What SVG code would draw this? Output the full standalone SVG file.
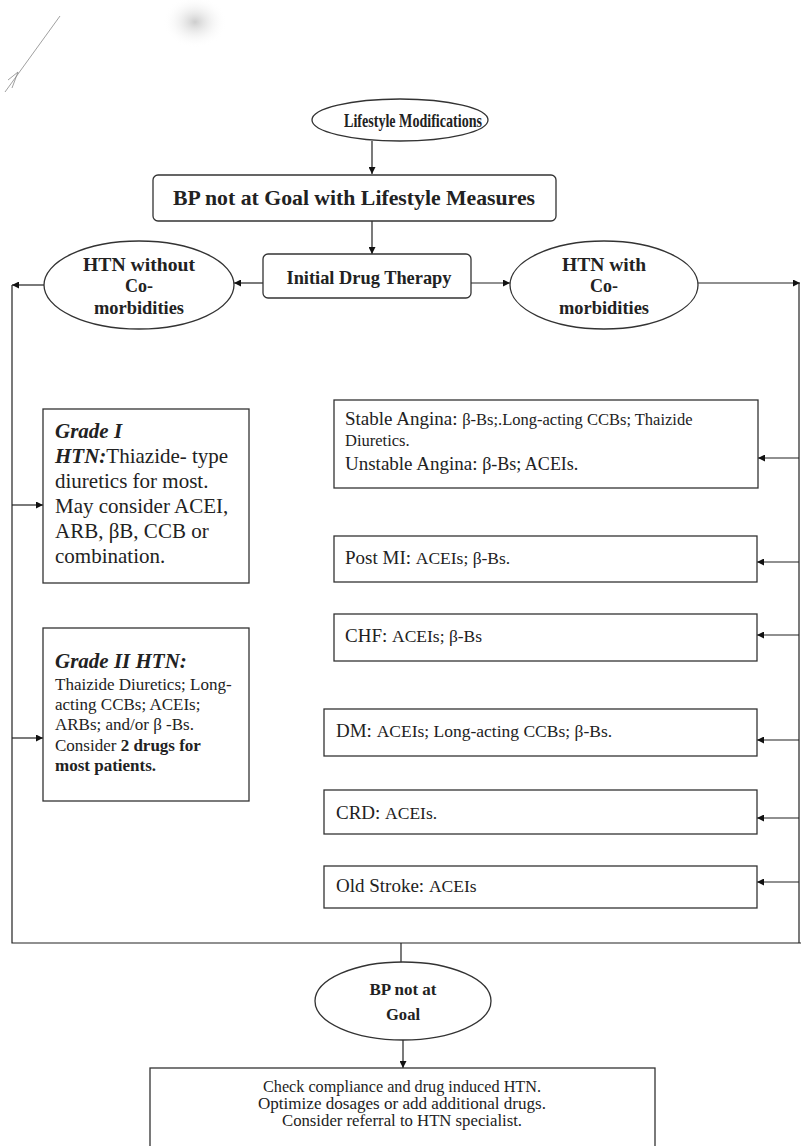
<svg xmlns="http://www.w3.org/2000/svg" width="801" height="1146" viewBox="0 0 801 1146">
<defs>
<marker id="ah" viewBox="0 0 10 10" refX="10" refY="5" markerWidth="9" markerHeight="7" orient="auto" markerUnits="userSpaceOnUse">
<path d="M0,0 L10,5 L0,10 z" fill="#111"/>
</marker>
<radialGradient id="smudge" cx="0.5" cy="0.5" r="0.5">
<stop offset="0" stop-color="#c8c8c8" stop-opacity="0.9"/>
<stop offset="1" stop-color="#ffffff" stop-opacity="0"/>
</radialGradient>
<style>
.shape{fill:#fff;stroke:#333;stroke-width:1.3}
.conn{fill:none;stroke:#222;stroke-width:1.2}
.t{font-family:"Liberation Serif","Times New Roman",serif;fill:#222}
.b{font-weight:bold}
.bi{font-weight:bold;font-style:italic}
.big{font-size:19px}
.sm{font-size:16.5px}
.g{font-size:21px}
.g2{font-size:17px}
.c{text-anchor:middle}
</style>
</defs>
<rect width="801" height="1146" fill="#fff"/>
<g id="scan-artifacts">
<ellipse cx="195" cy="22" rx="32" ry="26" fill="url(#smudge)"/>
<path d="M60,16 L5,92 M8,80 L18,72 L12,88" fill="none" stroke="#888" stroke-width="0.8"/>
</g>
<g id="connectors">
<line class="conn" x1="372" y1="141" x2="372" y2="174" marker-end="url(#ah)"/>
<line class="conn" x1="372" y1="221" x2="372" y2="254" marker-end="url(#ah)"/>
<line class="conn" x1="263" y1="283" x2="234" y2="283" marker-end="url(#ah)"/>
<line class="conn" x1="471" y1="283" x2="510" y2="283" marker-end="url(#ah)"/>
<line class="conn" x1="44" y1="285" x2="12" y2="285" marker-end="url(#ah)"/>
<line class="conn" x1="698" y1="283" x2="800" y2="283" marker-end="url(#ah)"/>
<polyline class="conn" points="12,285 12,943 801,943"/>
<line class="conn" x1="799" y1="283" x2="799" y2="943"/>
<line class="conn" x1="12" y1="505" x2="43" y2="505" marker-end="url(#ah)"/>
<line class="conn" x1="12" y1="738" x2="43" y2="738" marker-end="url(#ah)"/>
<line class="conn" x1="799" y1="458" x2="758" y2="458" marker-end="url(#ah)"/>
<line class="conn" x1="799" y1="562" x2="757" y2="562" marker-end="url(#ah)"/>
<line class="conn" x1="799" y1="635" x2="757" y2="635" marker-end="url(#ah)"/>
<line class="conn" x1="799" y1="740" x2="757" y2="740" marker-end="url(#ah)"/>
<line class="conn" x1="799" y1="818" x2="757" y2="818" marker-end="url(#ah)"/>
<line class="conn" x1="799" y1="882" x2="757" y2="882" marker-end="url(#ah)"/>
<line class="conn" x1="401" y1="943" x2="401" y2="962"/>
<line class="conn" x1="403" y1="1040" x2="403" y2="1068" marker-end="url(#ah)"/>
</g>
<g id="lifestyle">
<ellipse class="shape" cx="400" cy="120" rx="88" ry="21"/>
<text class="t b c" x="413" y="127" font-size="19" textLength="138" lengthAdjust="spacingAndGlyphs">Lifestyle Modifications</text>
</g>
<g id="bp-not-goal-lifestyle">
<rect class="shape" x="153" y="175" width="403" height="46" rx="5"/>
<text class="t b c" x="354" y="205" font-size="21" textLength="362" lengthAdjust="spacingAndGlyphs">BP not at Goal with Lifestyle Measures</text>
</g>
<g id="initial-therapy">
<rect class="shape" x="263" y="254" width="208" height="44" rx="5"/>
<text class="t b c" x="369" y="284" font-size="19" textLength="165" lengthAdjust="spacingAndGlyphs">Initial Drug Therapy</text>
</g>
<g id="htn-without">
<ellipse class="shape" cx="139" cy="285" rx="95" ry="44"/>
<text class="t b c" x="139" y="271" font-size="18" textLength="112" lengthAdjust="spacingAndGlyphs">HTN without</text>
<text class="t b c" x="139" y="292" font-size="18">Co-</text>
<text class="t b c" x="139" y="314" font-size="18" textLength="90" lengthAdjust="spacingAndGlyphs">morbidities</text>
</g>
<g id="htn-with">
<ellipse class="shape" cx="604" cy="285" rx="94" ry="44"/>
<text class="t b c" x="604" y="271" font-size="18" textLength="84" lengthAdjust="spacingAndGlyphs">HTN with</text>
<text class="t b c" x="604" y="292" font-size="18">Co-</text>
<text class="t b c" x="604" y="314" font-size="18" textLength="90" lengthAdjust="spacingAndGlyphs">morbidities</text>
</g>
<g id="grade1">
<rect class="shape" x="43" y="409" width="206" height="174"/>
<text class="t g" x="55" y="438"><tspan class="bi">Grade I</tspan></text>
<text class="t g" x="55" y="463"><tspan class="bi">HTN:</tspan>Thiazide- type</text>
<text class="t g" x="55" y="488">diuretics for most.</text>
<text class="t g" x="55" y="513">May consider ACEI,</text>
<text class="t g" x="55" y="538">ARB, βB, CCB or</text>
<text class="t g" x="55" y="563">combination.</text>
</g>
<g id="grade2">
<rect class="shape" x="43" y="628" width="206" height="173"/>
<text class="t g bi" x="55" y="668">Grade II HTN:</text>
<text class="t g2" x="55" y="690">Thaizide Diuretics; Long-</text>
<text class="t g2" x="55" y="710">acting CCBs; ACEIs;</text>
<text class="t g2" x="55" y="730">ARBs; and/or β -Bs.</text>
<text class="t g2" x="55" y="751">Consider <tspan class="b">2 drugs for</tspan></text>
<text class="t g2 b" x="55" y="771">most patients.</text>
</g>
<g id="angina">
<rect class="shape" x="334" y="400" width="424" height="88"/>
<text class="t" x="345" y="425"><tspan class="big">Stable Angina: </tspan><tspan class="sm">β-Bs;.Long-acting CCBs; Thaizide</tspan></text>
<text class="t sm" x="345" y="446">Diuretics.</text>
<text class="t" x="345" y="470"><tspan class="big">Unstable Angina: </tspan><tspan font-size="18">β-Bs; ACEIs.</tspan></text>
</g>
<g id="post-mi">
<rect class="shape" x="334" y="536" width="423" height="46"/>
<text class="t" x="345" y="564"><tspan class="big">Post MI: </tspan><tspan font-size="17.5">ACEIs; β-Bs.</tspan></text>
</g>
<g id="chf">
<rect class="shape" x="334" y="614" width="423" height="47"/>
<text class="t" x="345" y="642"><tspan class="big">CHF: </tspan><tspan font-size="17.5">ACEIs; β-Bs</tspan></text>
</g>
<g id="dm">
<rect class="shape" x="324" y="709" width="433" height="47"/>
<text class="t" x="336" y="737"><tspan class="big">DM: </tspan><tspan font-size="17.5">ACEIs; Long-acting CCBs; β-Bs.</tspan></text>
</g>
<g id="crd">
<rect class="shape" x="324" y="790" width="433" height="44"/>
<text class="t" x="336" y="819"><tspan class="big">CRD: </tspan><tspan font-size="17.5">ACEIs.</tspan></text>
</g>
<g id="old-stroke">
<rect class="shape" x="324" y="866" width="433" height="42"/>
<text class="t" x="336" y="892"><tspan class="big">Old Stroke: </tspan><tspan font-size="17.5">ACEIs</tspan></text>
</g>
<g id="bp-not-goal">
<ellipse class="shape" cx="403" cy="1001" rx="88" ry="39"/>
<text class="t b c" x="403" y="995" font-size="16" textLength="67" lengthAdjust="spacingAndGlyphs">BP not at</text>
<text class="t b c" x="403" y="1020" font-size="16" textLength="34" lengthAdjust="spacingAndGlyphs">Goal</text>
</g>
<g id="final-step">
<rect class="shape" x="150" y="1068" width="505" height="90"/>
<text class="t c" x="402" y="1092" font-size="17" textLength="278" lengthAdjust="spacingAndGlyphs">Check compliance and drug induced HTN.</text>
<text class="t c" x="402" y="1109" font-size="17" textLength="288" lengthAdjust="spacingAndGlyphs">Optimize dosages or add additional drugs.</text>
<text class="t c" x="402" y="1126" font-size="17" textLength="240" lengthAdjust="spacingAndGlyphs">Consider referral to HTN specialist.</text>
</g>
</svg>
